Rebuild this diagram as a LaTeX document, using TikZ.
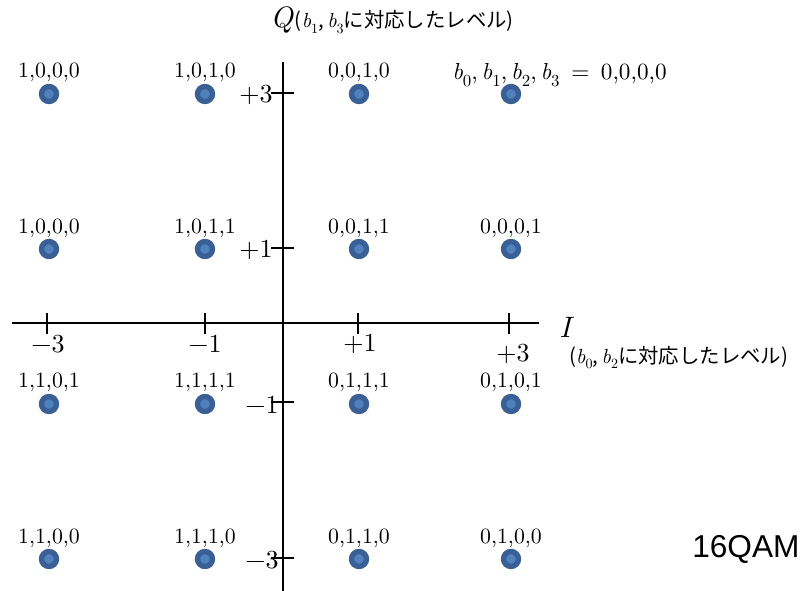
\documentclass[tikz,border=0pt]{standalone}
\usepackage{fontspec}
\setmainfont{lmroman10-regular.otf}[ItalicFont=lmroman10-italic.otf]
\newfontfamily\jpfont{Noto Sans CJK JP}
\newfontfamily\qamfont{Liberation Sans}
\newcommand\bsub[2]{{\rmfamily\itshape b}\raisebox{-0.28em}{\rmfamily\fontsize{#2}{#2}\selectfont #1}}
\definecolor{ptfill}{HTML}{4F81BD}
\definecolor{ptline}{HTML}{3A5F95}
\tikzset{
  sym/.style={draw=ptline,fill=ptfill,circle,minimum size=0.375cm,inner sep=0pt,line width=3.8pt},
  bits/.style={font=\fontsize{15.5}{18}\selectfont,inner sep=0pt,anchor=base},
  axis/.style={line width=1.4pt,black},
  tick/.style={line width=1.1pt,black},
  ticklab/.style={font=\fontsize{18.5}{21}\selectfont,inner sep=0pt},
  axlab/.style={font=\fontsize{21}{24}\selectfont\itshape,inner sep=0pt,anchor=base west},
  sublab/.style={font=\fontsize{14.5}{17}\selectfont\jpfont,inner sep=0pt,anchor=base west},
  qamlab/.style={font=\fontsize{22.5}{26}\selectfont\qamfont,inner sep=0pt,anchor=base west},
}
\begin{document}
\begin{tikzpicture}[x=0.025cm,y=-0.025cm]
  \useasboundingbox (0,0) rectangle (802,591);

  % axes
  \coordinate (iL) at (12,323);
  \coordinate (iR) at (539,323);
  \coordinate (qT) at (283,62);
  \coordinate (qB) at (283,591);
  \draw[axis] (iL) -- (iR);
  \draw[axis] (qT) -- (qB);

  % ticks
  \draw[tick] (47,313)  -- (47,334);
  \draw[tick] (205,313) -- (205,334);
  \draw[tick] (358,313) -- (358,334);
  \draw[tick] (509,313) -- (509,334);
  \draw[tick] (271,93)  -- (294,93);
  \draw[tick] (271,248) -- (294,248);
  \draw[tick] (271,402) -- (294,402);
  \draw[tick] (271,558) -- (294,558);

  \node[ticklab,anchor=east] (qp3) at (273,95)  {+3};
  \node[ticklab,anchor=east] (qp1) at (273,250) {+1};
  \node[ticklab,anchor=east] (qm1) at (279,405) {−1};
  \node[ticklab,anchor=east] (qm3) at (279,560) {−3};
  \node[ticklab] (im3) at (48,344)  {−3};
  \node[ticklab] (im1) at (205,344) {−1};
  \node[ticklab] (ip1) at (360,344) {+1};
  \node[ticklab] (ip3) at (513,354) {+3};

  % axis names
  \node[axlab] (qlab) at (270,28) {Q};
  \node[sublab] (qsub) at ([xshift=1pt]qlab.base east) {(\bsub{1}{10},\,\bsub{3}{10}に対応したレベル)};
  \node[axlab] (ilab) at (559,337) {I};
  \node[sublab] (isub) at (569,363) {(\bsub{0}{10},\,\bsub{2}{10}に対応したレベル)};

  % row +3
  \node[sym] (s11) at (49,94)  {};
  \node[sym] (s12) at (205,94) {};
  \node[sym] (s13) at (359,94) {};
  \node[sym] (s14) at (511,94) {};
  \node[bits] (b11) at (49,78)  {1,0,0,0};
  \node[bits] (b12) at (205,78) {1,0,1,0};
  \node[bits] (b13) at (359,78) {0,0,1,0};
  \node[bits,font=\fontsize{16.5}{19}\selectfont,anchor=base west] (b14) at (452,80)
    {\bsub{0}{12},\,\bsub{1}{12},\,\bsub{2}{12},\,\bsub{3}{12} \,=\, 0,0,0,0};

  % row +1
  \node[sym] (s21) at (49,249)  {};
  \node[sym] (s22) at (205,249) {};
  \node[sym] (s23) at (359,249) {};
  \node[sym] (s24) at (511,249) {};
  \node[bits] (b21) at (49,233)  {1,0,0,0};
  \node[bits] (b22) at (205,233) {1,0,1,1};
  \node[bits] (b23) at (359,233) {0,0,1,1};
  \node[bits] (b24) at (511,233) {0,0,0,1};

  % row -1
  \node[sym] (s31) at (49,404)  {};
  \node[sym] (s32) at (205,404) {};
  \node[sym] (s33) at (359,404) {};
  \node[sym] (s34) at (511,404) {};
  \node[bits] (b31) at (49,387)  {1,1,0,1};
  \node[bits] (b32) at (205,387) {1,1,1,1};
  \node[bits] (b33) at (359,387) {0,1,1,1};
  \node[bits] (b34) at (511,387) {0,1,0,1};

  % row -3
  \node[sym] (s41) at (49,559)  {};
  \node[sym] (s42) at (205,559) {};
  \node[sym] (s43) at (359,559) {};
  \node[sym] (s44) at (511,559) {};
  \node[bits] (b41) at (49,543)  {1,1,0,0};
  \node[bits] (b42) at (205,543) {1,1,1,0};
  \node[bits] (b43) at (359,543) {0,1,1,0};
  \node[bits] (b44) at (511,543) {0,1,0,0};

  \node[qamlab] (qam) at (692,557) {16QAM};
\end{tikzpicture}
\end{document}
